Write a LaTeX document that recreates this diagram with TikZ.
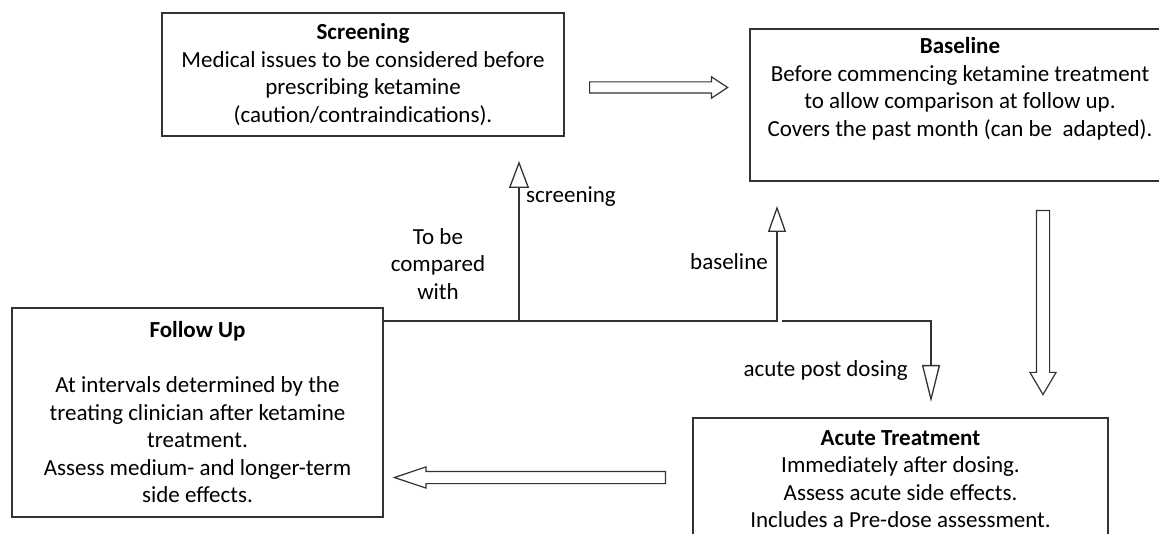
\documentclass[tikz,border=0pt]{standalone}
\usepackage{fontspec}
\setmainfont{Carlito}
\usetikzlibrary{arrows.meta,shapes.arrows}
\begin{document}
\begin{tikzpicture}[x=1pt, y=-1pt,
	box/.style = {draw=black!80, line width=1.3pt, rectangle, align=center, inner sep=0pt, font=\fontsize{23}{27.5}\selectfont},
	lbl/.style = {inner sep=0pt, align=center, font=\fontsize{23}{27.5}\selectfont},
	fat/.style = {draw=black!80, line width=1.2pt, single arrow, inner xsep=0pt, anchor=tail},
	conn/.style = {draw=black!80, line width=1.3pt, -{Triangle[open, length=27pt, width=20pt]}}]
	\clip (0,0) rectangle (1159,534);
	\node[box, minimum width=402pt, minimum height=123pt] (scr) at (363,74.5) {\textbf{Screening}\\Medical issues to be considered before\\prescribing ketamine\\(caution/contraindications).};
	\node[box, minimum width=420pt, minimum height=152pt] (base) at (960,105) {\textbf{Baseline}\\Before commencing ketamine treatment\\to allow comparison at follow up.\\Covers the past month (can be\ \ adapted).\\\strut};
	\node[box, minimum width=371pt, minimum height=209pt] (fu) at (197.5,412.5) {\textbf{Follow Up}\\[27.5pt]At intervals determined by the\\treating clinician after ketamine\\treatment.\\Assess medium- and longer-term\\side effects.};
	\node[box, minimum width=415pt, minimum height=122pt] (acute) at (900.5,479) {\textbf{Acute Treatment}\\Immediately after dosing.\\Assess acute side effects.\\Includes a Pre-dose assessment.};
	% block arrows
	\node[fat, minimum height=138pt, inner ysep=5pt, single arrow head extend=5pt, single arrow tip angle=67] (a1) at (589,87.5) {};
	\node[fat, minimum height=184pt, inner ysep=6pt, single arrow head extend=6.5pt, single arrow tip angle=61, rotate=-90] (a2) at (1043,210) {};
	\node[fat, minimum height=271pt, inner ysep=5.5pt, single arrow head extend=4.5pt, single arrow tip angle=37, rotate=180] (a3) at (666,477.5) {};
	% comparison lines
	\coordinate (j1) at (383,321);
	\coordinate (j2) at (519,321);
	\coordinate (j3) at (777,321);
	\coordinate (j4) at (782,321);
	\coordinate (stip) at (519,161);
	\coordinate (btip) at (777,206);
	\coordinate (atip) at (931,402);
	\draw[conn, -{Triangle[open, length=26pt, width=18pt]}] (j1) -- (j3) -- (btip);
	\draw[conn] (j2) -- (stip);
	\draw[conn, -{Triangle[open, length=37pt, width=18pt]}] (j4) -| (atip);
	\node[lbl, anchor=west] (lscr) at (526,197) {screening};
	\node[lbl] (lcmp) at (438,264) {To be\\compared\\with};
	\node[lbl, anchor=east] (lbase) at (768,262) {baseline};
	\node[lbl, anchor=east] (lacute) at (908,370) {acute post dosing};
\end{tikzpicture}
\end{document}
